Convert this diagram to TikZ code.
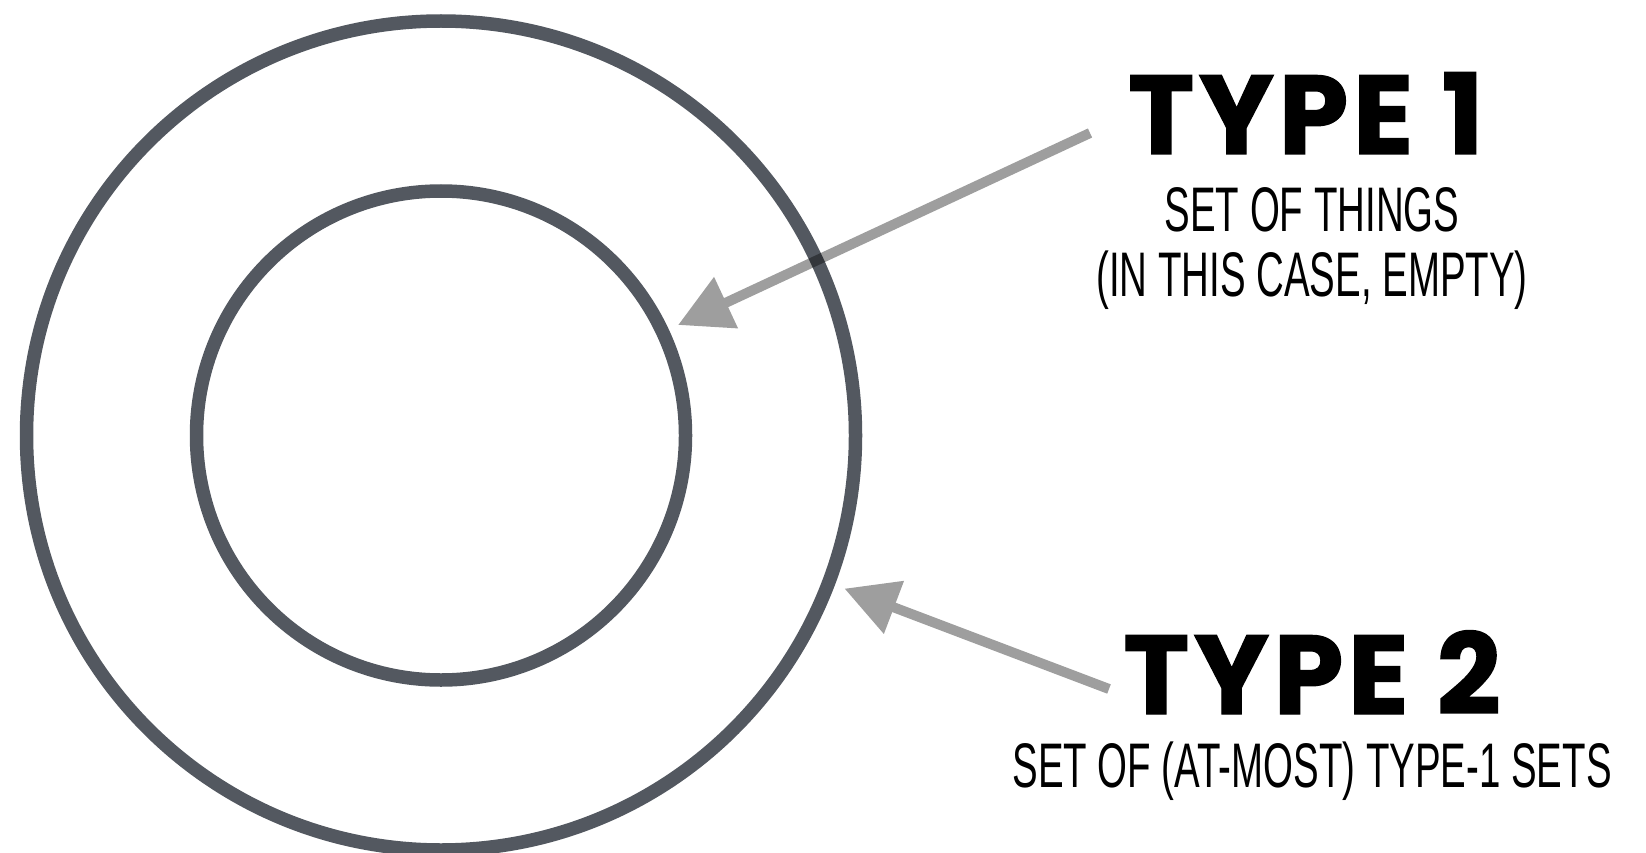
\documentclass[tikz,border=0pt]{standalone}
\usepackage{fontspec}
\setmainfont{Liberation Sans}
\newfontfamily\headfont{Poppins}[BoldFeatures={FakeBold=1.2}, LetterSpace=4]
\usetikzlibrary{arrows.meta}
\definecolor{ringgray}{RGB}{83,88,96}
\tikzset{
  ring/.style={draw=ringgray, line width=13.5pt, circle, inner sep=0pt, outer sep=17pt},
  pointer/.style={draw=black, line width=10pt, line cap=butt,
    -{Triangle[length=53pt, width=54pt]}},
  headline/.style={anchor=base, inner sep=0pt, text=black, text depth=0pt,
    font=\headfont\bfseries\fontsize{112}{112}\selectfont},
  subline/.style={anchor=base, inner sep=0pt, text=black,
    font=\fontsize{63}{63}\selectfont}
}
\newcommand{\narrow}[1]{\scalebox{0.61}[1]{#1}}
\begin{document}
\begin{tikzpicture}[x=1pt, y=-1pt]
  \path[use as bounding box] (0,0) rectangle (1646,853);

  % nested sets
  \node[ring, minimum size=829pt] (outer) at (441,435.5) {};
  \node[ring, minimum size=489pt] (inner) at (441,435.5) {};

  % labels
  \node[headline] (type1) at (1306,154) {TYPE 1};
  \node[subline] (type1a) at (1312,231) {\narrow{SET OF THINGS}};
  \node[subline] (type1b) at (1312,296) {\narrow{(IN THIS CASE, EMPTY)}};
  \node[headline] (type2) at (1312,714) {TYPE 2};
  \node[subline] (type2a) at (1312,787) {\narrow{SET OF (AT-MOST) TYPE-1 SETS}};

  % pointers, semi-transparent so the ring shows through
  \coordinate (tail1) at (1090,133);
  \coordinate (tail2) at (1109,689);
  \begin{scope}[transparency group, opacity=0.38]
    \draw[pointer] (tail1) -- (inner);
    \draw[pointer] (tail2) -- (outer);
  \end{scope}
\end{tikzpicture}
\end{document}
